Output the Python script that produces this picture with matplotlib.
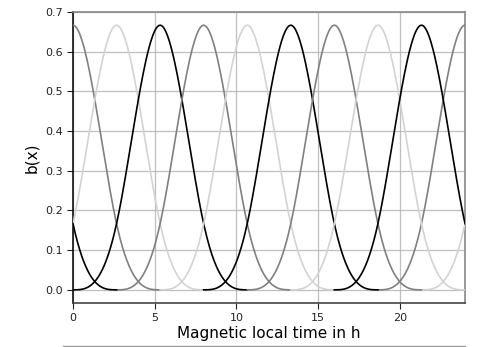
import numpy as np
import matplotlib
matplotlib.use("Agg")
import matplotlib.pyplot as plt
from matplotlib.lines import Line2D

# Periodic cubic B-spline basis over magnetic local time
period_h = 24.0
peak_hours = [0.0, 2.667, 5.333, 8.0, 10.667, 13.333, 16.0, 18.667, 21.333]
curve_colors = ["#808080", "#d3d3d3", "#000000"]
x_ticks = [0, 5, 10, 15, 20]
y_ticks = [0.0, 0.1, 0.2, 0.3, 0.4, 0.5, 0.6, 0.7]

spacing = period_h / len(peak_hours)


def cubic_bspline(t):
    t = np.abs(t)
    out = np.zeros_like(t)
    a = t < 1
    b = (t >= 1) & (t < 2)
    out[a] = 2.0 / 3.0 - t[a] ** 2 + 0.5 * t[a] ** 3
    out[b] = (2.0 - t[b]) ** 3 / 6.0
    return out


fig = plt.figure(figsize=(5.01, 3.47), dpi=100)
ax = fig.add_axes([0.1457, 0.127, 0.7825, 0.8384])

for k, c in enumerate(peak_hours):
    color = curve_colors[k % 3]
    for shift in (-period_h, 0.0, period_h):
        lo = max(0.0, c + shift - 2 * spacing)
        hi = min(period_h, c + shift + 2 * spacing)
        if hi - lo <= 1e-9:
            continue
        xs = np.linspace(lo, hi, 200)
        ys = cubic_bspline((xs - (c + shift)) / spacing)
        ax.plot(xs, ys, color=color, lw=1.2, zorder=3)

ax.set_xlim(0, period_h)
ax.set_ylim(-0.033, 0.7)
ax.set_xticks(x_ticks)
ax.set_yticks(y_ticks)
ax.set_yticklabels([f"{v:.1f}" for v in y_ticks])
ax.tick_params(labelsize=8, colors="#222222", length=4)
ax.grid(True, color="#b0b0b0", lw=0.9, alpha=0.8)
ax.set_axisbelow(True)

ax.spines["left"].set_color("#111111")
ax.spines["bottom"].set_color("#444444")
ax.spines["top"].set_color("#888888")
ax.spines["right"].set_color("#888888")
for s in ax.spines.values():
    s.set_linewidth(1.2)

ax.set_xlabel("Magnetic local time in h", fontsize=11, labelpad=2)
ax.set_ylabel("b(x)", fontsize=11, labelpad=4)

fig.add_artist(Line2D([63 / 501, 465 / 501], [1.5 / 347, 1.5 / 347],
                      transform=fig.transFigure, color="#999999", lw=1.0))

fig.savefig("out.png", dpi=100)
